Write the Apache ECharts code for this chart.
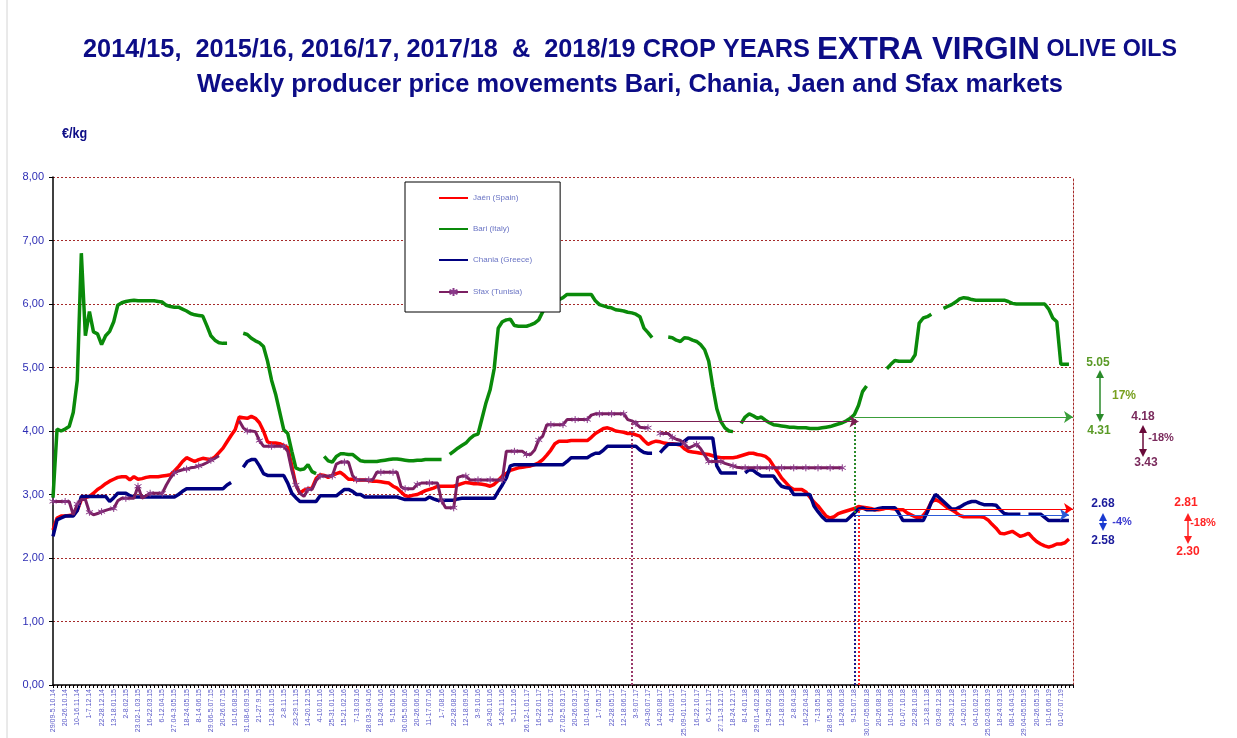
<!DOCTYPE html>
<html><head><meta charset="utf-8">
<script src="https://cdn.jsdelivr.net/npm/echarts@6/dist/echarts.min.js"></script>
<style>html,body{margin:0;padding:0;background:#fff}#c{width:1237px;height:738px}</style>
</head><body><div id="c"></div>
<script>
const tickLabels = ['29/09-5.10.14','20-26.10.14','10-16.11.14','1-7.12.14','22-28.12.14','13-18.01.15','2-8.02.15','23.02-1.03.15','16-22.03.15','6-12.04.15','27.04-3.05.15','18-24.05.15','8-14.06.15','29.06-5.07.15','20-26.07.15','10-16.08.15','31.08-6.09.15','21-27.9.15','12-18.10.15','2-8.11.15','23-29.11.15','14-20.12.15','4-10.01.16','25-31.01.16','15-21.02.16','7-13.03.16','28.03-3.04.16','18-24.04.16','9-15.05.16','30.05-5.06.16','20-26.06.16','11-17.07.16','1-7.08.16','22-28.08.16','12-18.09.16','3-9.10.16','24-30.10.16','14-20.11.16','5-11.12.16','26.12-1.01.17','16-22.01.17','6-12.02.17','27.02-5.03.17','20-26.03.17','10-16.04.17','1-7.05.17','22-28.05.17','12-18.06.17','3-9.07.17','24-30.07.17','14-20.08.17','4-10.09.17','25.09-01.10.17','16-22.10.17','6-12.11.17','27.11-3.12.17','18-24.12.17','8-14.01.18','29.01-4.02.18','19-25.02.18','12-18.03.18','2-8.04.18','16-22.04.18','7-13.05.18','28.05-3.06.18','18-24.06.18','9-15.07.18','30.07-05.08.18','20-26.08.18','10-16.09.18','01-07.10.18','22-28.10.18','12-18.11.18','03-09.12.18','24-30.12.18','14-20.01.19','04-10.02.19','25.02-03.03.19','18-24.03.19','08-14.04.19','29.04-05.05.19','20-26.05.19','10-16.06.19','01-07.07.19'];
const WEEKS = 253;

const jaen = [
2.44,2.63,2.66,2.66,2.67,2.68,2.75,2.92,2.95,2.97,
3.02,3.08,3.12,3.17,3.21,3.24,3.27,3.28,3.28,3.23,
3.28,3.24,3.25,3.27,3.28,3.28,3.28,3.29,3.30,3.31,
3.37,3.44,3.52,3.58,3.55,3.52,3.55,3.57,3.56,3.55,
3.59,3.66,3.73,3.83,3.93,4.02,4.22,4.21,4.20,4.23,
4.20,4.13,4.00,3.83,3.81,3.81,3.80,3.77,3.74,3.45,
3.15,3.02,3.07,3.09,3.10,3.25,3.31,3.30,3.27,3.30,
3.33,3.35,3.30,3.24,3.24,3.23,3.23,3.23,3.22,3.21,
3.21,3.20,3.19,3.18,3.13,3.10,3.04,2.98,2.97,2.99,
3.00,3.03,3.06,3.08,3.10,3.13,3.13,3.13,3.13,3.13,
3.15,3.17,3.19,3.18,3.17,3.17,3.16,3.15,3.13,3.16,
3.22,3.29,3.33,3.38,3.40,3.42,3.43,3.44,3.45,3.47,
3.50,3.55,3.62,3.70,3.80,3.84,3.84,3.84,3.85,3.85,
3.85,3.85,3.85,3.90,3.96,4.00,4.04,4.05,4.03,4.00,
3.99,3.98,3.96,3.96,3.94,3.92,3.85,3.79,3.82,3.84,
3.83,3.81,3.80,3.80,3.79,3.78,3.72,3.68,3.67,3.66,
3.65,3.64,3.63,3.61,3.59,3.58,3.58,3.58,3.58,3.59,
3.61,3.63,3.65,3.65,3.63,3.62,3.60,3.55,3.45,3.36,
3.26,3.19,3.12,3.08,3.08,3.08,3.04,2.96,2.88,2.82,
2.74,2.66,2.63,2.65,2.70,2.72,2.74,2.76,2.78,2.81,
2.80,2.79,2.78,2.76,2.76,2.77,2.79,2.78,2.77,2.76,
2.76,2.71,2.68,2.65,2.63,2.67,2.75,2.88,2.92,2.89,
2.84,2.79,2.76,2.72,2.67,2.65,2.65,2.65,2.65,2.65,
2.64,2.60,2.53,2.47,2.39,2.38,2.40,2.42,2.38,2.34,
2.36,2.39,2.32,2.26,2.22,2.19,2.17,2.19,2.22,2.22,
2.24,2.30];

const bari = [
2.95,4.03,4.00,4.03,4.07,4.29,4.80,6.80,5.50,5.88,
5.56,5.53,5.36,5.50,5.57,5.72,5.98,6.02,6.04,6.05,
6.06,6.05,6.05,6.05,6.05,6.05,6.04,6.03,5.98,5.96,
5.95,5.95,5.92,5.89,5.85,5.83,5.82,5.81,5.66,5.50,
5.43,5.39,5.38,5.38,null,null,null,5.54,5.52,5.46,
5.42,5.39,5.33,5.10,4.80,4.58,4.30,4.02,3.96,3.68,
3.42,3.39,3.40,3.47,3.36,3.33,null,3.60,3.53,3.51,
3.60,3.64,3.64,3.63,3.63,3.58,3.53,3.52,3.52,3.52,
3.52,3.53,3.54,3.55,3.56,3.56,3.55,3.54,3.53,3.53,
3.54,3.54,3.55,3.55,3.55,3.55,3.55,null,3.63,3.68,
3.73,3.77,3.81,3.88,3.93,3.95,4.20,4.45,4.65,4.98,
5.62,5.72,5.75,5.76,5.66,5.65,5.65,5.65,5.67,5.70,
5.75,5.88,5.95,6.00,6.04,6.07,6.10,6.15,6.15,6.15,
6.15,6.15,6.15,6.15,6.05,5.99,5.97,5.95,5.94,5.91,
5.90,5.89,5.87,5.86,5.84,5.80,5.62,5.55,5.47,null,
null,null,5.48,5.47,5.43,5.41,5.47,5.46,5.43,5.41,
5.36,5.28,5.10,4.70,4.35,4.15,4.05,4.00,3.99,null,
4.12,4.22,4.27,4.24,4.20,4.22,4.17,4.13,4.10,4.09,
4.08,4.07,4.06,4.06,4.05,4.05,4.05,4.04,4.04,4.04,
4.05,4.06,4.07,4.09,4.11,4.13,4.16,4.20,4.26,4.40,
4.62,4.71,null,null,null,null,4.98,5.05,5.11,5.10,
5.10,5.10,5.10,5.20,5.70,5.78,5.80,5.84,null,null,
5.93,5.96,5.99,6.03,6.08,6.10,6.09,6.07,6.06,6.06,
6.06,6.06,6.06,6.06,6.06,6.06,6.04,6.01,6.00,6.00,
6.00,6.00,6.00,6.00,6.00,6.00,5.92,5.78,5.72,5.05,
5.05,5.05];

const chania = [
2.34,2.60,2.63,2.66,2.66,2.66,2.75,2.97,2.97,2.97,
2.97,2.97,2.97,2.97,2.89,2.95,3.02,3.02,3.02,2.98,
2.96,2.96,2.96,2.96,2.96,2.96,2.96,2.96,2.96,2.96,
2.96,3.00,3.05,3.09,3.09,3.09,3.09,3.09,3.09,3.09,
3.09,3.09,3.09,3.15,3.19,null,null,3.43,3.52,3.55,
3.55,3.45,3.33,3.30,3.30,3.30,3.30,3.30,3.18,3.02,
2.95,2.89,2.89,2.89,2.89,2.89,2.98,2.98,2.98,2.98,
2.98,3.03,3.08,3.08,3.05,3.00,3.00,2.96,2.96,2.96,
2.96,2.96,2.96,2.96,2.96,2.96,2.94,2.92,2.92,2.92,
2.92,2.92,2.92,2.96,2.93,2.91,2.91,2.91,2.91,2.91,
2.93,2.94,2.94,2.94,2.94,2.94,2.94,2.94,2.94,2.94,
3.05,3.15,3.26,3.45,3.47,3.47,3.47,3.47,3.47,3.47,
3.47,3.47,3.47,3.47,3.47,3.47,3.47,3.52,3.58,3.58,
3.58,3.58,3.58,3.62,3.65,3.65,3.70,3.76,3.76,3.76,
3.76,3.76,3.76,3.76,3.76,3.70,3.66,3.65,3.65,null,
3.66,3.73,3.79,3.79,3.79,3.79,3.84,3.89,3.89,3.89,
3.89,3.89,3.89,3.89,3.45,3.34,3.34,3.34,3.34,3.34,
null,3.34,3.39,3.38,3.33,3.29,3.29,3.29,3.29,3.20,
3.13,3.11,3.10,3.00,3.00,3.00,3.00,3.00,2.82,2.73,
2.65,2.59,2.59,2.59,2.59,2.59,2.59,2.65,2.71,2.77,
2.79,2.76,2.76,2.76,2.78,2.79,2.79,2.79,2.79,2.70,
2.59,2.59,2.59,2.59,2.59,2.59,2.72,2.88,3.00,2.95,
2.89,2.83,2.77,2.77,2.80,2.84,2.87,2.89,2.89,2.86,
2.84,2.84,2.84,2.83,2.76,2.70,2.69,2.69,2.69,2.69,
null,2.69,2.69,2.69,2.69,2.64,2.59,2.59,2.59,2.59,
2.59,2.59];

const sfax = [
2.89,2.89,2.89,2.89,2.89,2.68,2.85,2.92,2.92,2.72,
2.68,2.70,2.73,2.75,2.77,2.78,2.90,2.94,2.94,2.94,
2.94,3.13,2.94,2.98,3.02,3.02,3.02,3.02,3.15,3.26,
3.34,3.37,3.39,3.40,3.42,3.43,3.45,3.47,3.50,3.54,
3.57,3.61,null,null,null,null,4.16,4.05,4.00,4.00,
3.99,3.85,3.76,3.76,3.76,3.76,3.76,3.76,3.68,3.38,
3.15,3.02,2.97,3.08,3.08,3.22,3.29,3.29,3.29,3.29,
3.48,3.51,3.51,3.51,3.30,3.23,3.23,3.23,3.23,3.23,
3.35,3.35,3.35,3.35,3.35,3.35,3.12,3.09,3.09,3.09,
3.16,3.18,3.18,3.18,3.18,3.18,2.90,2.79,2.79,2.79,
3.27,3.29,3.29,3.23,3.23,3.23,3.23,3.23,3.23,3.23,
3.23,3.23,3.68,3.68,3.68,3.68,3.68,3.63,3.63,3.70,
3.86,3.92,4.10,4.10,4.10,4.10,4.10,4.18,4.18,4.18,
4.18,4.18,4.18,4.25,4.27,4.27,4.27,4.27,4.27,4.27,
4.27,4.27,4.18,4.16,4.12,4.06,4.05,4.05,null,null,
3.96,3.96,3.96,3.90,3.87,3.85,3.80,3.73,3.76,3.79,
3.72,3.62,3.52,3.52,3.52,3.52,3.49,3.47,3.45,3.43,
3.42,3.42,3.42,3.42,3.42,3.42,3.42,3.42,3.42,3.42,
3.42,3.42,3.42,3.42,3.42,3.42,3.42,3.42,3.42,3.42,
3.42,3.42,3.42,3.42,3.42,3.42];

// reference arrows drawn in the plot: start week, end week, value
const sfaxRef = {week: 142.5, end: 199, value: 4.15};
const bariRef = {week: 198, end: 252, value: 4.22};
const jaenRef = {week: 199, end: 252, value: 2.77};
const chaniaRef = {week: 198, end: 251, value: 2.68};

// annotations on the right: [text, x, y, color, size]
const noteTexts = [
  ['5.05',1098,363,'#5a9a26',12],['17%',1124,396,'#78a020',12],['4.31',1099,431,'#5a9a26',12],
  ['4.18',1143,417,'#7a2a5c',12],['-18%',1161,438,'#7a2a5c',11],['3.43',1146,463,'#7a2a5c',12],
  ['2.68',1103,504,'#1c1c9c',12],['-4%',1122,522,'#3a3ad0',11],['2.58',1103,541,'#1c1c9c',12],
  ['2.81',1186,503,'#ff2424',12],['-18%',1203,523,'#ff2424',11],['2.30',1188,552,'#ff2424',12]
];
// double arrows: [x, yTop, yBottom, color]
const noteArrows = [
  [1100,370,422,'#2a8a2a'],[1143,425,457,'#6a0a3a'],[1103,513,531,'#1a3ad0'],[1188,513,544,'#ff2020']
];

const categories = [];
for (let i = 0; i < WEEKS; i++) categories.push(i % 3 === 0 && tickLabels[i / 3] ? tickLabels[i / 3] : 'w' + i);

const chart = echarts.init(document.getElementById('c'), null, {renderer: 'canvas'});

function measure(text, font) {
  const c = document.createElement('canvas').getContext('2d');
  c.font = font; return c.measureText(text).width;
}
const FF = '"Liberation Sans", Arial, sans-serif';
const t1a = '2014/15,  2015/16, 2016/17, 2017/18  &  2018/19 CROP YEARS ';
const t1b = 'EXTRA VIRGIN';
const t1c = ' OLIVE OILS';
const w1 = measure(t1a, 'bold 25px ' + FF) + measure(t1b, 'bold 31px ' + FF) + measure(t1c, 'bold 23px ' + FF);
const t2 = 'Weekly producer price movements Bari, Chania, Jaen and Sfax markets';
const w2 = measure(t2, 'bold 25px ' + FF);
const sx1 = 1094 / w1, sx2 = 866 / w2;

const graphics = [
  {type: 'line', shape: {x1: 7, y1: 0, x2: 7, y2: 738}, style: {stroke: '#d4d4d4', lineWidth: 1}, silent: true},
  {type: 'text', x: 630, y: 50, scaleX: sx1, style: {
    text: '{a|' + t1a + '}{b|' + t1b + '}{c|' + t1c + '}', align: 'center', verticalAlign: 'middle',
    rich: {
      a: {font: 'bold 25px ' + FF, fill: '#0c0c86'},
      b: {font: 'bold 31px ' + FF, fill: '#0c0c86'},
      c: {font: 'bold 23px ' + FF, fill: '#0c0c86'}
    }}},
  {type: 'text', x: 630, y: 85, scaleX: sx2, style: {text: t2, font: 'bold 25px ' + FF, fill: '#0c0c86', align: 'center', verticalAlign: 'middle'}},
  {type: 'text', x: 62, y: 134, scaleX: 0.9, style: {text: '€/kg', font: 'bold 14px ' + FF, fill: '#0c0c86', align: 'left', verticalAlign: 'middle'}}
];
noteTexts.forEach(([t, x, y, col, fs]) => graphics.push({type: 'text', x, y, style: {text: t, font: 'bold ' + fs + 'px ' + FF, fill: col, align: 'center', verticalAlign: 'middle'}}));
noteArrows.forEach(([x, y1, y2, col]) => {
  graphics.push({type: 'line', shape: {x1: x, y1: y1 + 5, x2: x, y2: y2 - 5}, style: {stroke: col, lineWidth: 1.5}});
  graphics.push({type: 'polygon', shape: {points: [[x, y1], [x - 4, y1 + 8], [x + 4, y1 + 8]]}, style: {fill: col}});
  graphics.push({type: 'polygon', shape: {points: [[x, y2], [x - 4, y2 - 8], [x + 4, y2 - 8]]}, style: {fill: col}});
});

function refLines(ref, col, vcol) {
  return {
    silent: true, animation: false, label: {show: false}, symbolSize: 9,
    data: [
      [{coord: [ref.week, ref.value], symbol: 'none', lineStyle: {color: col, width: 1, type: 'solid'}},
       {coord: [ref.end, ref.value], symbol: 'arrow'}],
      [{coord: [ref.week, 0], symbol: 'none', lineStyle: {color: vcol, width: 2, type: [2, 2]}},
       {coord: [ref.week, ref.value], symbol: 'none'}]
    ]
  };
}

const asterisk = 'path://M5 0L5 10M0.7 2.5L9.3 7.5M0.7 7.5L9.3 2.5';
const hidden = {color: 'rgba(0,0,0,0)', borderWidth: 0, opacity: 0};

chart.setOption({
  animation: false,
  backgroundColor: '#ffffff',
  textStyle: {fontFamily: FF},
  grid: {left: 53, right: 164, top: 177, bottom: 53, containLabel: false, outerBoundsMode: 'none'},
  legend: {
    orient: 'vertical', left: 405, top: 182, backgroundColor: '#ffffff', borderColor: '#000000', borderWidth: 1,
    padding: [12, 28, 15, 33], itemGap: 23, itemWidth: 29, itemHeight: 10,
    textStyle: {fontSize: 8, color: '#6a74c4', fontFamily: FF},
    data: [
      {name: 'Jaén (Spain)', itemStyle: hidden},
      {name: 'Bari (Italy)', itemStyle: hidden},
      {name: 'Chania (Greece)', itemStyle: hidden},
      {name: 'Sfax (Tunisia)'}
    ]
  },
  xAxis: {
    type: 'category', data: categories, boundaryGap: false,
    axisLine: {lineStyle: {color: '#000', width: 1.5}},
    axisTick: {show: true, interval: 0, length: 3, lineStyle: {color: '#000', width: 1}},
    axisLabel: {interval: 2, rotate: 90, fontSize: 7, color: '#5a5ac8', margin: 4,
      formatter: v => (v.charAt(0) === 'w' ? '' : v)},
    splitLine: {show: false}
  },
  yAxis: [{
    type: 'value', min: 0, max: 8, interval: 1,
    axisLine: {show: true, lineStyle: {color: '#000', width: 1.5}},
    axisTick: {show: true, length: 4, lineStyle: {color: '#000'}},
    axisLabel: {fontSize: 11, color: '#2d2db4', margin: 9, formatter: v => v.toFixed(2).replace('.', ',')},
    splitLine: {show: true, lineStyle: {color: '#a52a2a', width: 1, type: [2, 2]}}
  }, {
    type: 'value', min: 0, max: 8, interval: 1, position: 'right',
    axisLine: {show: true, lineStyle: {color: '#a52a2a', width: 1, type: [2, 2]}},
    axisTick: {show: false}, axisLabel: {show: false}, splitLine: {show: false}
  }],
  series: [
    {name: 'Jaén (Spain)', type: 'line', data: jaen, showSymbol: false, symbol: 'none', connectNulls: false,
     lineStyle: {color: '#ff0000', width: 3.5}, itemStyle: {color: '#ff0000'}, z: 2,
     markLine: refLines(jaenRef, '#ff0000', '#ff2020')},
    {name: 'Bari (Italy)', type: 'line', data: bari, showSymbol: false, symbol: 'none',
     lineStyle: {color: '#0a8a0a', width: 3.5}, itemStyle: {color: '#0a8a0a'}, z: 3,
     markLine: refLines(bariRef, '#3a9e3a', '#2a8a2a')},
    {name: 'Chania (Greece)', type: 'line', data: chania, showSymbol: false, symbol: 'none',
     lineStyle: {color: '#000080', width: 3.5}, itemStyle: {color: '#000080'}, z: 4,
     markLine: refLines(chaniaRef, '#2a5ad8', '#1a1a8a')},
    {name: 'Sfax (Tunisia)', type: 'line', data: sfax, showSymbol: true, symbol: asterisk, symbolSize: 7,
     lineStyle: {color: '#7b1f62', width: 3}, itemStyle: {color: '#8a3a8a', borderColor: '#8a3a8a', borderWidth: 1}, z: 5,
     markLine: refLines(sfaxRef, '#7b1f52', '#9a3a6a')}
  ],
  graphic: graphics
});
</script>
</body></html>
